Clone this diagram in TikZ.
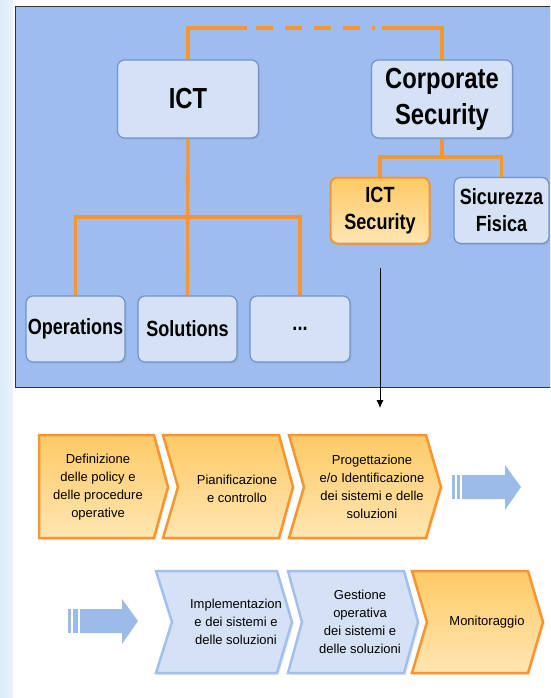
\documentclass[tikz,border=0pt]{standalone}
\usepackage{fontspec}
\setmainfont{Liberation Sans}
\newfontfamily\boxfont{Liberation Sans}[FakeStretch=0.82]
\usetikzlibrary{arrows.meta,shadows}
\definecolor{panelblue}{HTML}{9EBCF0}
\definecolor{boxfill}{HTML}{D5E1F4}
\definecolor{boxline}{HTML}{6F93CD}
\definecolor{orgline}{HTML}{F7962F}
\definecolor{orgtop}{HTML}{FFCA66}
\definecolor{orgbot}{HTML}{FFE6B2}
\definecolor{chevblue}{HTML}{A3C0EC}
\definecolor{arrowblue}{HTML}{9DBBE8}
\definecolor{strip}{HTML}{DDEBFB}
\begin{document}
\begin{tikzpicture}[x=1pt,y=1pt,
  orgbox/.style={draw=boxline, line width=1.2pt, fill=boxfill, rounded corners=7pt,
    inner sep=0pt, align=center, text=black,
    font=\boxfont\bfseries\fontsize{22}{27}\selectfont,
    drop shadow={opacity=0.2,shadow xshift=1.5pt,shadow yshift=-1.5pt}},
  bigbox/.style={orgbox, minimum width=141pt, minimum height=78pt,
    font=\boxfont\bfseries\fontsize{29}{36}\selectfont},
  smallbox/.style={orgbox, minimum width=99pt, minimum height=66pt},
  hotbox/.style={smallbox, draw=orgline, line width=2pt, top color=orgtop, bottom color=orgbot},
  link/.style={draw=orgline, line width=3.3pt},
  chevorg/.style={draw=orgline, line width=2.5pt, top color=orgtop, bottom color=orgbot,
    line join=miter, drop shadow={opacity=0.15,shadow xshift=2pt,shadow yshift=-2pt}},
  chevblu/.style={draw=chevblue, line width=2.5pt, fill=boxfill,
    line join=miter, drop shadow={opacity=0.15,shadow xshift=2pt,shadow yshift=-2pt}},
  chevtext/.style={align=center, inner sep=0pt, font=\fontsize{13}{18}\selectfont},
  blockarrow/.style={fill=arrowblue, draw=none}
]
\useasboundingbox (0,0) rectangle (550,-698);
\begin{scope}
\clip (0,0) rectangle (550,-698);
\fill[white] (0,0) rectangle (550,-698);
\shade[left color=strip, right color=strip!60!white] (0,0) rectangle (13,-698);
\draw[fill=panelblue, draw=black!80, line width=1pt] (15,-7) rectangle (570,-387);

% org chart nodes
\node[bigbox] (ict) at (188,-99) {ICT};
\node[bigbox] (cs) at (442,-99) {Corporate\\Security};
\node[hotbox] (icts) at (380,-210.5) {ICT\\Security};
\node[smallbox, minimum width=95pt] (sf) at (501.5,-210.5) {Sicurezza\\Fisica};
\node[smallbox] (ops) at (75.5,-329) {Operations};
\node[smallbox] (sol) at (187.5,-329) {Solutions};
\node[smallbox, minimum width=100pt] (dots) at (300,-329) {...};

% connectors
\coordinate (d0) at (247,-28);
\coordinate (d1) at (256,-28);
\coordinate (d3) at (382,-28);
\coordinate (j1) at (188,-217);
\coordinate (j2) at (442,-157);
\draw[link] (ict.north) |- (d0);
\foreach \s/\l in {0/17,29/17,58/17,87/17,116/3}
  \draw[link] ([xshift=\s pt]d1) -- ++(\l,0);
\draw[link] (d3) -| (cs.north);
\draw[link] (ict.south) -- (sol.north);
\draw[link] (ops.north) |- (j1) -| (dots.north);
\draw[link] (cs.south) -- (j2);
\draw[link] (icts.north) |- (j2) -| (sf.north);

\coordinate (a0) at (380,-268);
\coordinate (a1) at (380,-408);
\draw[-{Latex[length=8pt,width=7pt]}, line width=0.8pt] (a0) -- (a1);

% process chevrons, row 1
\path[chevorg] (39,-435) -- (154,-435) -- (168,-487) -- (154,-538) -- (39,-538) -- cycle;
\path[chevorg] (163,-435) -- (279,-435) -- (293,-487) -- (279,-538) -- (163,-538) -- (178,-487) -- cycle;
\path[chevorg] (289,-435) -- (426,-435) -- (441,-487) -- (426,-538) -- (289,-538) -- (304,-487) -- cycle;
\node[chevtext] (c1) at (98,-487) {Definizione\\delle policy e\\delle procedure\\operative};
\node[chevtext] (c2) at (237,-489) {Pianificazione\\e controllo};
\node[chevtext] (c3) at (372,-487) {Progettazione\\e/o Identificazione\\dei sistemi e delle\\soluzioni};

% block arrows
\fill[blockarrow] (452,-475) rectangle (455,-499);
\fill[blockarrow] (457,-475) rectangle (460,-499);
\fill[blockarrow] (462,-475) -- (505,-475) -- (505,-465) -- (521,-487) -- (505,-510) -- (505,-499) -- (462,-499) -- cycle;
\fill[blockarrow] (68,-609) rectangle (71,-633);
\fill[blockarrow] (73,-609) rectangle (78,-633);
\fill[blockarrow] (80,-609) -- (122,-609) -- (122,-599) -- (138,-621) -- (122,-644) -- (122,-633) -- (80,-633) -- cycle;

% process chevrons, row 2
\path[chevblu] (156,-571) -- (277,-571) -- (292,-622) -- (277,-673) -- (156,-673) -- (172,-622) -- cycle;
\path[chevblu] (288,-571) -- (404,-571) -- (418,-622) -- (404,-673) -- (288,-673) -- (302,-622) -- cycle;
\path[chevorg] (412,-571) -- (528,-571) -- (543,-622) -- (528,-673) -- (412,-673) -- (427,-622) -- cycle;
\node[chevtext] (c4) at (236,-622) {Implementazion\\e dei sistemi e\\delle soluzioni};
\node[chevtext] (c5) at (360,-622) {Gestione\\operativa\\dei sistemi e\\delle soluzioni};
\node[chevtext] (c6) at (487,-622) {Monitoraggio};
\end{scope}
\end{tikzpicture}
\end{document}
